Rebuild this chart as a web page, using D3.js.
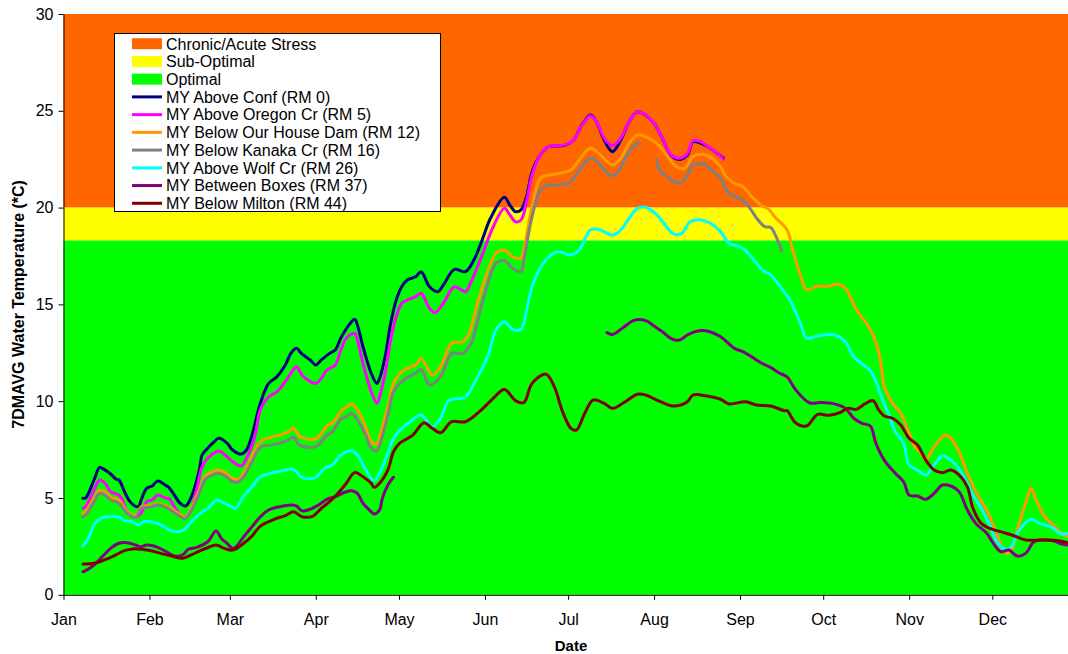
<!DOCTYPE html>
<html><head><meta charset="utf-8">
<script src="https://cdn.jsdelivr.net/npm/d3@7"></script>
<style>
body{margin:0;background:#fff}
svg{display:block}
text{font-family:Arial,"Liberation Sans",sans-serif;fill:#000}
</style>
</head><body>
<svg id="chart" width="1068" height="654"></svg>
<script>
// ---------- DATA ----------
const YEAR = 2008;
const monthTicks = ["01-01","02-01","03-01","04-01","05-01","06-01","07-01","08-01","09-01","10-01","11-01","12-01"];
const yTicks = [0,5,10,15,20,25,30];

const bandNames = ["Chronic/Acute Stress","Sub-Optimal","Optimal"];
const bandLow  = [20, 18.3, 0];
const bandHigh = [30, 20, 18.3];

const seriesNames = ["MY Above Conf (RM 0)","MY Above Oregon Cr (RM 5)","MY Below Our House Dam (RM 12)","MY Below Kanaka Cr (RM 16)","MY Above Wolf Cr (RM 26)","MY Between Boxes (RM 37)","MY Below Milton (RM 44)"];

const aboveConf = [["01-08",4.98],["01-09",5.0],["01-12",5.93],["01-14",6.58],["01-15",6.53],["01-18",6.24],["01-20",5.97],["01-21",5.93],["01-23",5.33],["01-25",4.81],["01-28",4.55],["01-29",4.9],["01-31",5.5],["02-02",5.62],["02-04",5.88],["02-07",5.64],["02-08",5.55],["02-10",5.15],["02-12",4.73],["02-14",4.59],["02-15",4.73],["02-17",5.41],["02-19",6.45],["02-20",7.22],["02-22",7.57],["02-24",7.86],["02-26",8.08],["02-29",7.83],["03-02",7.48],["03-05",7.27],["03-07",7.48],["03-09",8.25],["03-12",9.89],["03-15",10.92],["03-18",11.27],["03-21",11.87],["03-23",12.47],["03-25",12.73],["03-27",12.44],["03-30",12.13],["04-01",11.87],["04-03",12.13],["04-06",12.47],["04-08",12.64],["04-10",13.25],["04-13",13.94],["04-15",14.23],["04-16",13.94],["04-18",12.82],["04-21",11.44],["04-23",10.92],["04-24",11.18],["04-26",12.3],["04-28",14.02],["04-30",15.23],["05-02",15.91],["05-04",16.26],["05-07",16.43],["05-09",16.69],["05-12",15.91],["05-15",15.66],["05-17",16.0],["05-21",16.81],["05-25",16.69],["05-28",17.29],["05-31",18.33],["06-03",19.45],["06-08",20.53],["06-10",20.13],["06-12",19.79],["06-14",19.88],["06-16",20.56],["06-18",21.85],["06-21",22.72],["06-24",23.15],["06-27",23.18],["06-30",23.23],["07-03",23.49],["07-06",24.27],["07-09",24.78],["07-11",24.5],["07-14",23.49],["07-17",22.89],["07-20",23.49],["07-23",24.44],["07-26",24.95],["07-29",24.78],["08-01",24.35],["08-04",23.58],["08-07",22.72],["08-10",22.49],["08-13",22.72],["08-15",23.4],["08-18",23.32],["08-20",23.18],["08-23",22.89],["08-26",22.55]];

const aboveOregon = [["01-08",4.47],["01-09",4.55],["01-12",5.41],["01-14",5.93],["01-16",5.76],["01-18",5.33],["01-21",5.15],["01-22",4.98],["01-24",4.29],["01-27",4.03],["01-29",4.21],["01-31",4.81],["02-02",4.9],["02-04",5.15],["02-07",4.98],["02-08",4.98],["02-10",4.55],["02-13",4.03],["02-15",4.12],["02-18",5.41],["02-20",6.62],["02-22",7.05],["02-26",7.43],["02-29",7.13],["03-02",6.88],["03-05",6.65],["03-07",7.05],["03-10",8.17],["03-12",9.55],["03-15",10.23],["03-18",10.49],["03-21",11.01],["03-23",11.44],["03-25",11.78],["03-27",11.35],["03-30",11.01],["04-01",10.92],["04-03",11.18],["04-05",11.61],["04-08",11.87],["04-10",12.64],["04-12",13.25],["04-15",13.51],["04-16",13.16],["04-18",11.96],["04-21",10.49],["04-23",9.89],["04-24",10.23],["04-26",11.44],["04-28",13.16],["04-30",14.36],["05-02",15.06],["05-04",15.23],["05-07",15.4],["05-09",15.57],["05-12",14.8],["05-14",14.57],["05-17",15.06],["05-21",15.91],["05-25",15.66],["05-27",16.17],["05-31",17.55],["06-04",19.01],["06-08",19.96],["06-10",19.62],["06-12",19.27],["06-14",19.36],["06-16",20.3],["06-18",21.68],["06-21",22.72],["06-24",23.15],["06-27",23.2],["06-30",23.25],["07-03",23.5],["07-06",24.25],["07-09",24.75],["07-11",24.5],["07-14",23.6],["07-17",23.2],["07-20",23.6],["07-23",24.45],["07-26",24.95],["07-29",24.8],["08-01",24.35],["08-04",23.6],["08-07",22.75],["08-10",22.55],["08-13",22.8],["08-15",23.45],["08-18",23.4],["08-20",23.2],["08-23",22.9],["08-26",22.5]];

const belowOurHouse = [["01-08",4.21],["01-09",4.29],["01-12",4.98],["01-14",5.38],["01-16",5.33],["01-18",5.04],["01-21",4.9],["01-24",4.29],["01-27",4.12],["01-29",4.55],["02-01",4.59],["02-04",4.69],["02-07",4.59],["02-10",4.34],["02-13",4.07],["02-14",4.03],["02-16",4.47],["02-19",5.41],["02-21",6.1],["02-23",6.31],["02-26",6.45],["02-29",6.24],["03-02",6.02],["03-04",5.97],["03-06",6.28],["03-09",7.13],["03-12",7.91],["03-16",8.14],["03-19",8.25],["03-22",8.42],["03-24",8.6],["03-26",8.2],["03-29",8.03],["04-01",8.05],["04-03",8.34],["04-05",8.72],["04-07",8.86],["04-10",9.46],["04-12",9.69],["04-14",9.86],["04-16",9.55],["04-19",8.68],["04-21",7.91],["04-23",7.79],["04-24",8.17],["04-27",9.72],["04-29",10.92],["05-02",11.52],["05-04",11.7],["05-07",11.87],["05-09",12.2],["05-13",11.35],["05-16",11.78],["05-20",12.99],["05-24",13.07],["05-26",13.42],["05-30",15.4],["06-05",17.64],["06-08",17.81],["06-11",17.46],["06-14",17.38],["06-15",17.81],["06-18",20.05],["06-21",21.51],["06-24",21.68],["06-28",21.77],["07-02",21.94],["07-05",22.46],["07-09",23.06],["07-12",22.8],["07-17",22.2],["07-20",22.55],["07-23",23.32],["07-26",23.75],["07-29",23.66],["08-02",23.32],["08-06",22.63],["08-09",22.11],["08-12",22.03],["08-15",22.63],["08-18",22.75],["08-21",22.63],["08-25",22.11],["08-27",21.6],["08-30",21.26],["09-02",21.08],["09-05",20.6],["09-09",20.08],["09-11",19.96],["09-14",19.45],["09-18",18.84],["09-20",17.81],["09-23",16.43],["09-25",15.76],["09-29",15.95],["10-02",15.91],["10-06",16.04],["10-09",15.83],["10-13",14.71],["10-17",13.94],["10-20",13.07],["10-22",11.8],["10-23",10.75],["10-26",9.89],["10-29",9.38],["11-01",8.34],["11-03",7.65],["11-05",7.39],["11-07",6.96],["11-10",7.65],["11-14",8.25],["11-16",8.08],["11-19",7.39],["11-22",6.28],["11-26",5.07],["11-29",4.38],["12-02",3.35],["12-06",2.14],["12-08",2.31],["12-10",3.35],["12-13",4.73],["12-15",5.5],["12-17",4.81],["12-20",4.03],["12-23",3.6],["12-26",3.18],["12-28",3.0]];

const belowKanaka = [["01-08",4.03],["01-09",4.12],["01-12",4.81],["01-14",5.24],["01-16",5.15],["01-18",4.9],["01-21",4.73],["01-24",4.21],["01-27",4.0],["01-29",4.47],["02-01",4.52],["02-04",4.64],["02-07",4.52],["02-10",4.24],["02-13",3.98],["02-14",3.95],["02-16",4.34],["02-19",5.24],["02-21",5.93],["02-23",6.14],["02-26",6.28],["02-29",6.07],["03-02",5.84],["03-04",5.84],["03-06",6.1],["03-09",6.88],["03-12",7.62],["03-16",7.74],["03-19",7.83],["03-22",8.0],["03-24",8.14],["03-26",7.74],["03-29",7.62],["04-01",7.65],["04-03",7.91],["04-05",8.25],["04-07",8.42],["04-10",9.07],["04-12",9.2],["04-14",9.37],["04-16",9.03],["04-19",8.25],["04-21",7.57],["04-23",7.44],["04-24",7.74],["04-27",9.29],["04-29",10.49],["05-02",11.01],["05-04",11.23],["05-07",11.44],["05-09",11.65],["05-12",10.84],["05-16",11.27],["05-20",12.47],["05-24",12.47],["05-27",12.99],["05-31",15.06],["06-05",17.12],["06-08",17.26],["06-11",16.87],["06-14",16.69],["06-15",17.29],["06-18",19.53],["06-21",20.9],["06-24",21.17],["06-28",21.17],["07-02",21.34],["07-05",21.94],["07-09",22.55],["07-11",22.46],["07-12",22.29],["07-17",21.63],["07-20",22.11],["07-23",22.89],["07-26",23.32],["07-27",23.27],["07-28",null],["08-02",22.46],["08-03",21.94],["08-06",21.56],["08-09",21.29],["08-11",21.34],["08-13",21.68],["08-15",22.2],["08-19",22.25],["08-21",22.03],["08-25",21.51],["08-27",20.91],["08-30",20.56],["09-02",20.39],["09-05",19.88],["09-07",19.45],["09-10",19.01],["09-12",18.98],["09-14",18.5],["09-16",17.76]];

const aboveWolf = [["01-08",2.52],["01-10",2.92],["01-12",3.61],["01-15",3.98],["01-18",4.03],["01-21",4.03],["01-23",3.83],["01-26",3.78],["01-28",3.61],["01-30",3.78],["02-03",3.72],["02-06",3.55],["02-09",3.3],["02-13",3.31],["02-14",3.43],["02-17",3.9],["02-19",4.17],["02-22",4.47],["02-23",4.59],["02-25",4.9],["02-28",4.73],["03-02",4.52],["03-03",4.47],["03-06",5.07],["03-10",5.76],["03-12",6.1],["03-16",6.28],["03-20",6.41],["03-24",6.48],["03-27",6.05],["04-01",6.07],["04-04",6.53],["04-07",6.7],["04-10",7.22],["04-14",7.44],["04-16",7.22],["04-19",6.45],["04-22",5.89],["04-24",6.28],["04-27",7.31],["04-29",8.08],["05-02",8.6],["05-05",8.94],["05-09",9.29],["05-13",8.68],["05-16",9.12],["05-19",10.03],["05-25",10.23],["05-29",11.18],["06-02",12.3],["06-05",13.68],["06-08",14.1],["06-11",13.71],["06-14",13.71],["06-15",14.02],["06-18",15.91],["06-22",17.12],["06-27",17.72],["07-02",17.55],["07-05",17.81],["07-09",18.84],["07-12",18.88],["07-17",18.58],["07-20",18.84],["07-23",19.45],["07-26",19.96],["07-29",20.02],["08-02",19.62],["08-05",19.1],["08-08",18.64],["08-11",18.67],["08-14",19.27],["08-18",19.36],["08-21",19.22],["08-25",18.76],["08-28",18.16],["09-02",17.9],["09-06",17.29],["09-09",16.78],["09-12",16.52],["09-16",15.83],["09-19",15.23],["09-23",13.94],["09-25",13.25],["09-29",13.37],["10-05",13.42],["10-09",13.07],["10-12",12.3],["10-17",11.7],["10-19",11.35],["10-22",10.23],["10-25",9.2],["10-27",8.42],["10-30",7.83],["11-01",6.7],["11-04",6.45],["11-07",6.19],["11-10",6.7],["11-13",7.17],["11-16",6.96],["11-20",6.28],["11-24",5.15],["11-27",4.47],["11-30",3.61],["12-03",2.66],["12-06",2.35],["12-08",2.48],["12-10",3.18],["12-15",3.9],["12-18",3.69],["12-22",3.52],["12-26",3.14],["12-28",3.18]];

const betweenBoxes = [["01-08",1.19],["01-09",1.25],["01-12",1.54],["01-15",1.97],["01-18",2.4],["01-21",2.66],["01-24",2.69],["01-27",2.57],["01-29",2.48],["01-31",2.57],["02-04",2.45],["02-07",2.23],["02-10",2.0],["02-13",2.06],["02-15",2.35],["02-18",2.45],["02-22",2.74],["02-25",3.3],["02-27",2.9],["02-29",2.66],["03-02",2.4],["03-03",2.45],["03-06",3.0],["03-09",3.52],["03-12",4.03],["03-15",4.38],["03-19",4.55],["03-23",4.64],["03-25",4.59],["03-27",4.34],["03-30",4.42],["04-02",4.64],["04-05",4.93],["04-08",5.07],["04-11",5.27],["04-14",5.38],["04-16",5.24],["04-18",4.73],["04-21",4.29],["04-22",4.17],["04-24",4.38],["04-25",4.98],["04-27",5.67],["04-29",6.07],["07-14",null],["07-15",13.54],["07-17",13.45],["07-21",13.82],["07-25",14.19],["07-29",14.16],["08-01",13.88],["08-04",13.59],["08-07",13.25],["08-10",13.15],["08-13",13.42],["08-16",13.6],["08-20",13.63],["08-25",13.33],["08-30",12.73],["09-02",12.56],["09-06",12.22],["09-09",11.95],["09-12",11.75],["09-15",11.47],["09-18",11.25],["09-21",10.6],["09-26",9.92],["09-30",9.93],["10-05",9.86],["10-09",9.63],["10-12",9.12],["10-15",8.86],["10-18",8.72],["10-20",7.83],["10-23",6.96],["10-27",6.28],["10-30",5.84],["11-01",5.15],["11-04",5.1],["11-07",4.93],["11-10",5.24],["11-13",5.67],["11-16",5.62],["11-19",5.33],["11-22",4.38],["11-25",3.69],["11-29",3.18],["12-01",2.74],["12-04",2.23],["12-07",2.31],["12-10",2.0],["12-13",2.14],["12-16",2.74],["12-19",2.83],["12-23",2.79],["12-26",2.62],["12-28",2.57]];

const belowMilton = [["01-08",1.59],["01-12",1.63],["01-15",1.76],["01-19",2.0],["01-23",2.28],["01-26",2.37],["01-29",2.35],["02-02",2.26],["02-05",2.14],["02-09",2.0],["02-13",1.89],["02-16",2.06],["02-19",2.26],["02-22",2.43],["02-25",2.57],["02-28",2.4],["03-02",2.31],["03-06",2.66],["03-09",3.04],["03-12",3.55],["03-17",3.9],["03-21",4.09],["03-24",4.29],["03-27",4.03],["03-31",4.07],["04-03",4.47],["04-06",4.81],["04-09",5.24],["04-12",5.76],["04-15",6.31],["04-18",6.1],["04-21",5.76],["04-22",5.55],["04-24",5.76],["04-27",6.45],["04-29",7.39],["05-01",7.8],["05-06",8.25],["05-10",8.89],["05-13",8.6],["05-16",8.37],["05-20",8.94],["05-25",8.94],["05-30",9.46],["06-04",10.15],["06-08",10.61],["06-12",10.03],["06-15",9.92],["06-18",10.92],["06-23",11.4],["06-26",10.75],["06-29",9.46],["07-02",8.6],["07-04",8.51],["07-07",9.38],["07-10",10.06],["07-14",9.89],["07-17",9.63],["07-21",9.92],["07-26",10.36],["07-29",10.32],["08-02",10.06],["08-08",9.75],["08-13",9.97],["08-15",10.32],["08-20",10.27],["08-25",10.1],["08-28",9.86],["09-03",9.97],["09-07",9.8],["09-12",9.75],["09-17",9.51],["09-18",9.51],["09-21",8.89],["09-25",8.72],["09-29",9.32],["10-03",9.27],["10-07",9.41],["10-10",9.63],["10-13",9.58],["10-16",9.86],["10-19",10.03],["10-21",9.55],["10-23",9.24],["10-26",9.12],["10-29",8.77],["11-01",8.08],["11-04",7.74],["11-07",6.96],["11-10",6.45],["11-13",6.31],["11-16",6.45],["11-19",6.19],["11-22",5.58],["11-24",4.47],["11-27",3.69],["11-30",3.43],["12-04",3.26],["12-08",3.09],["12-13",2.83],["12-19",2.83],["12-25",2.79],["12-28",2.69]];

// ---------- STYLE ----------
const bandColors = ["#FF6600","#FFFF00","#00FF00"];
const lineColors = ["#000080","#FF00FF","#FF9900","#808080","#00FFFF","#800080","#800000"];
const seriesData = [aboveConf, aboveOregon, belowOurHouse, belowKanaka, aboveWolf, betweenBoxes, belowMilton];

// ---------- CHART ----------
const parse = d3.timeParse("%Y-%m-%d");
const toDate = s => parse(YEAR + "-" + s);
const svg = d3.select("#chart");
const pLeft = 63.5, pRight = 1068, pTop = 14, pBottom = 594.8;

const x = d3.scaleTime()
  .domain([new Date(YEAR,0,1), new Date(YEAR,11,28,7)])
  .range([pLeft, pRight]);
const y = d3.scaleLinear().domain([0,30]).range([pBottom, pTop]);

// bands
svg.append("g").selectAll("rect").data(bandNames).join("rect")
  .attr("x", pLeft).attr("width", pRight - pLeft)
  .attr("y", (d,i) => y(bandHigh[i]))
  .attr("height", (d,i) => y(bandLow[i]) - y(bandHigh[i]))
  .attr("fill", (d,i) => bandColors[i]);

// lines
const line = d3.line()
  .defined(d => d[1] != null)
  .x(d => x(toDate(d[0])))
  .y(d => y(d[1]))
  .curve(d3.curveCatmullRom.alpha(0.5));

svg.append("clipPath").attr("id","plotclip").append("rect")
  .attr("x", pLeft).attr("y", pTop).attr("width", pRight-pLeft).attr("height", pBottom-pTop);

svg.append("g").attr("clip-path","url(#plotclip)")
  .selectAll("path").data(seriesData).join("path")
  .attr("d", d => line(d))
  .attr("fill","none")
  .attr("stroke", (d,i) => lineColors[i])
  .attr("stroke-width", 3)
  .attr("stroke-linejoin","round")
  .attr("stroke-linecap","round");

// axes
const xAxis = d3.axisBottom(x)
  .tickValues(monthTicks.map(toDate))
  .tickFormat(d3.timeFormat("%b"))
  .tickSize(5).tickSizeOuter(0).tickPadding(14);
const gx = svg.append("g").attr("transform", `translate(0,${pBottom})`).call(xAxis);
gx.select(".domain").attr("stroke","#000").attr("d", `M${pLeft},0.5H${pRight}`);
gx.selectAll("text").attr("font-size", 16).attr("font-family","Arial, 'Liberation Sans', sans-serif");
gx.selectAll("line").attr("stroke","#000");

const yAxis = d3.axisLeft(y).tickValues(yTicks).tickSize(5).tickSizeOuter(0).tickPadding(5);
const gy = svg.append("g").attr("transform", `translate(${pLeft},0)`).call(yAxis);
gy.select(".domain").attr("stroke","#000");
gy.selectAll("text").attr("font-size", 16).attr("font-family","Arial, 'Liberation Sans', sans-serif");
gy.selectAll("line").attr("stroke","#000");

// axis titles
svg.append("text")
  .attr("transform", `translate(24,${(pTop+pBottom)/2}) rotate(-90)`)
  .attr("text-anchor","middle")
  .attr("font-weight","bold").attr("font-size", 16)
  .text("7DMAVG Water Temperature (*C)");
svg.append("text")
  .attr("x", 571).attr("y", 651)
  .attr("text-anchor","middle")
  .attr("font-weight","bold").attr("font-size", 15)
  .text("Date");

// legend
const lg = svg.append("g");
lg.append("rect").attr("x",114.5).attr("y",33.5).attr("width",326).attr("height",178)
  .attr("fill","#fff").attr("stroke","#000").attr("stroke-width",1);
const legendNames = bandNames.concat(seriesNames);
const rowY = i => 43.7 + i * 17.73;
lg.selectAll("rect.sw").data(bandNames).join("rect").attr("class","sw")
  .attr("x",132).attr("width",30).attr("y",(d,i)=>rowY(i)-5.5).attr("height",11)
  .attr("fill",(d,i)=>bandColors[i]);
lg.selectAll("line.sw").data(seriesNames).join("line").attr("class","sw")
  .attr("x1",132).attr("x2",162)
  .attr("y1",(d,i)=>rowY(i+3)).attr("y2",(d,i)=>rowY(i+3))
  .attr("stroke",(d,i)=>lineColors[i]).attr("stroke-width",3);
lg.selectAll("text").data(legendNames).join("text")
  .attr("x",166).attr("y",(d,i)=>rowY(i)+5.8)
  .attr("font-size",16)
  .text(d=>d);
</script>
</body></html>
